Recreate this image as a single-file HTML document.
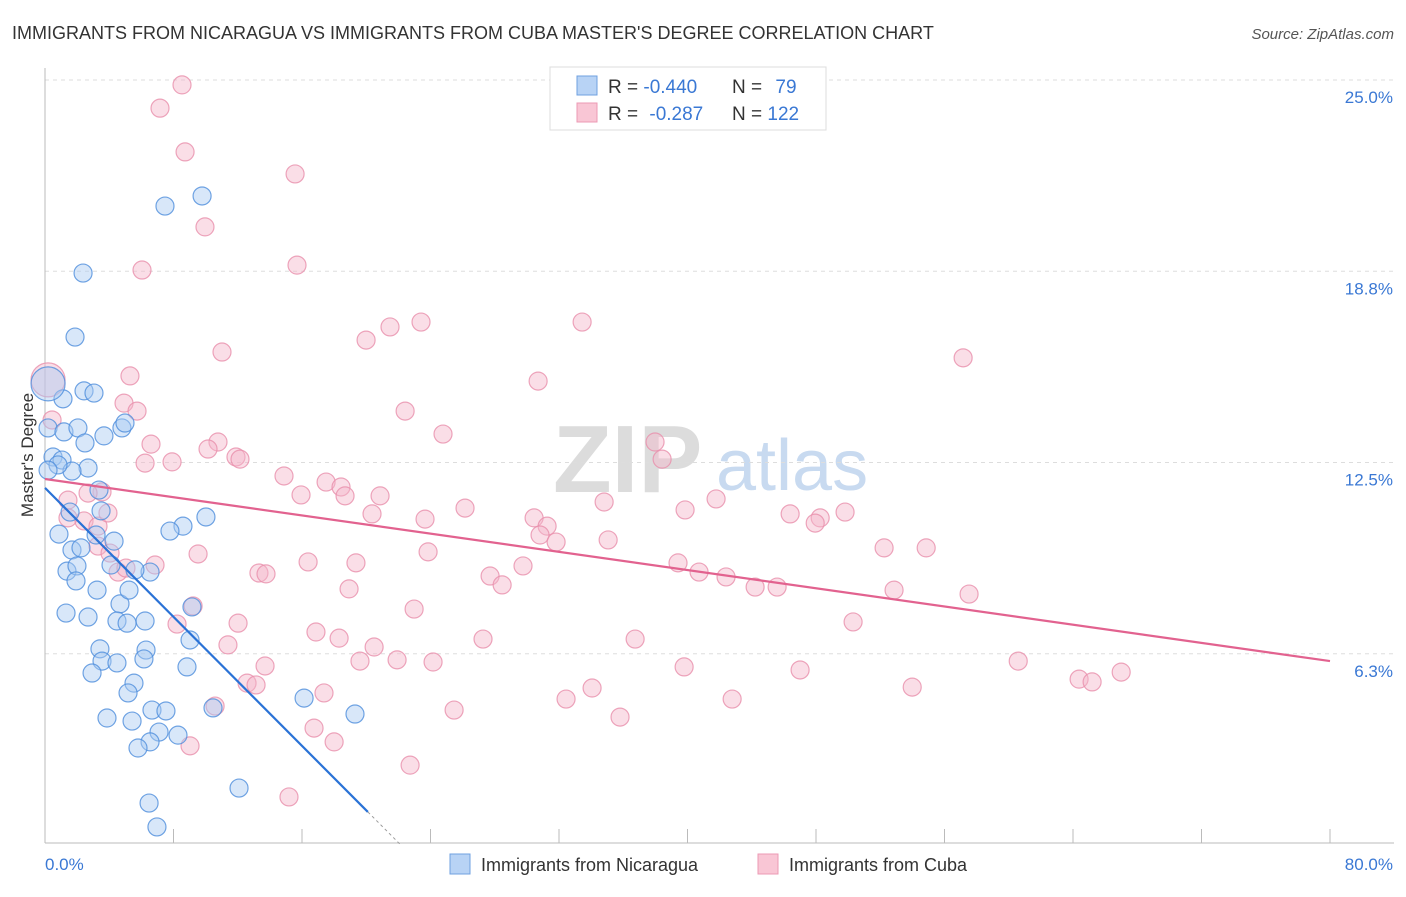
<!DOCTYPE html>
<html><head><meta charset="utf-8">
<style>
body{margin:0;background:#fff;font-family:"Liberation Sans",sans-serif;}
svg text{font-family:"Liberation Sans",sans-serif;}
</style></head>
<body>
<svg id="chart" width="1406" height="892" xmlns="http://www.w3.org/2000/svg">
<text x="12" y="39" font-size="18" fill="#333">IMMIGRANTS FROM NICARAGUA VS IMMIGRANTS FROM CUBA MASTER'S DEGREE CORRELATION CHART</text>
<text x="1394" y="39" font-size="15" fill="#555" text-anchor="end" font-style="italic">Source: ZipAtlas.com</text>
<g>
<text x="553" y="492" font-size="96" fill="#dcdcdc" font-family="Liberation Serif,serif" font-weight="bold">ZIP</text>
<text x="716" y="490" font-size="72" fill="#c8daf0">atlas</text>
</g>
<g id="grid"></g>
<g id="axes"></g>
<g id="pts"></g>
<g id="trends"></g>
<text transform="translate(33,455) rotate(-90)" font-size="17" fill="#333" text-anchor="middle">Master's Degree</text>
<g>
<rect x="550" y="67" width="276" height="63" fill="#fff" stroke="#ddd"/>
<rect x="577" y="76" width="20" height="19" fill="#b8d3f5" stroke="#6fa0e0"/>
<rect x="577" y="103" width="20" height="19" fill="#f9c6d5" stroke="#ec9ab4"/>
<text x="608" y="93" font-size="19" fill="#333">R = <tspan fill="#3a78d4">-0.440</tspan></text>
<text x="732" y="93" font-size="19" fill="#333">N = <tspan fill="#3a78d4" dx="8">79</tspan></text>
<text x="608" y="120" font-size="19" fill="#333">R = <tspan fill="#3a78d4" dx="6">-0.287</tspan></text>
<text x="732" y="120" font-size="19" fill="#333">N = <tspan fill="#3a78d4">122</tspan></text>
</g>
<g>
<rect x="450" y="854" width="20" height="20" fill="#b8d3f5" stroke="#6fa0e0"/>
<text x="481" y="871" font-size="18" fill="#333">Immigrants from Nicaragua</text>
<rect x="758" y="854" width="20" height="20" fill="#f9c6d5" stroke="#ec9ab4"/>
<text x="789" y="871" font-size="18" fill="#333">Immigrants from Cuba</text>
</g>
</svg>
<script>
const yTicks=[25.0,18.8,12.5,6.3];
const yTickVals=[25,18.75,12.5,6.25];
const xTickLabels=["0.0%","80.0%"];
const nicX=[7.47,9.78,2.37,1.87,2.43,3.05,1.12,0.19,0.19,1.18,2.05,4.79,4.98,3.67,2.49,0.50,1.06,2.68,1.68,0.81,0.19,3.36,3.49,1.56,8.59,10.02,7.78,0.87,3.18,4.30,1.68,2.24,4.11,6.54,5.60,1.37,1.99,4.67,5.23,1.93,3.24,1.31,2.68,4.48,5.11,9.15,9.03,6.23,8.84,3.42,3.55,4.48,6.29,6.16,2.93,5.54,5.17,16.13,19.30,10.46,3.86,5.42,6.66,7.53,7.10,8.28,6.54,5.79,12.08,6.48,6.97];
const nicY=[20.88,21.21,18.69,16.60,14.84,14.77,14.58,15.07,13.63,13.50,13.63,13.63,13.79,13.37,13.14,12.68,12.58,12.32,12.22,12.42,12.25,11.60,10.92,10.88,10.42,10.72,10.26,10.16,10.13,9.93,9.64,9.71,9.15,8.92,8.99,8.95,9.12,7.88,8.33,8.63,8.33,7.58,7.45,7.32,7.25,7.78,6.70,7.32,5.82,6.41,6.01,5.95,6.37,6.08,5.62,5.29,4.97,4.80,4.28,4.48,4.15,4.05,4.41,4.38,3.69,3.59,3.37,3.17,1.86,1.37,0.59];
const cubX=[8.53,7.16,8.72,15.57,9.96,6.04,15.69,11.02,19.99,21.48,23.41,33.44,57.16,30.70,22.42,5.29,4.92,5.73,0.19,0.44,24.78,6.60,10.77,10.15,11.89,12.14,6.23,7.91,37.98,38.42,14.88,17.50,18.43,18.68,20.86,15.94,3.55,2.68,1.43,34.81,41.78,26.15,20.36,23.66,30.45,31.26,30.82,31.82,39.85,46.39,48.26,47.95,49.81,1.43,2.43,3.30,3.92,3.30,4.05,9.53,16.38,19.36,23.85,35.06,52.24,54.86,39.41,40.72,42.40,27.71,28.46,29.76,13.32,13.76,18.93,6.85,4.55,5.04,9.22,22.98,44.21,45.58,52.86,57.53,8.22,12.02,16.87,18.31,20.49,27.27,36.74,50.31,11.39,13.70,19.61,21.92,24.16,39.79,47.01,60.59,64.38,65.19,67.00,53.99,34.06,32.44,42.78,12.58,13.14,17.37,10.59,25.47,35.80,16.75,18.00,9.03,22.73,15.19];
const cubY=[24.84,24.08,22.65,21.93,20.20,18.79,18.95,16.11,16.50,16.93,17.09,17.09,15.92,15.16,14.18,15.33,14.44,14.18,15.20,13.89,13.43,13.10,13.17,12.94,12.68,12.61,12.48,12.52,13.17,12.61,12.06,11.86,11.70,11.41,11.41,11.44,11.54,11.50,11.27,11.21,11.31,11.01,10.82,10.65,10.69,10.42,10.13,9.90,10.95,10.82,10.69,10.52,10.88,10.69,10.59,10.42,10.85,9.77,9.54,9.51,9.25,9.22,9.58,9.97,9.71,9.71,9.22,8.92,8.76,8.79,8.50,9.12,8.89,8.86,8.37,9.15,8.92,9.05,7.81,7.71,8.43,8.43,8.33,8.20,7.22,7.25,6.96,6.76,6.47,6.73,6.73,7.29,6.54,5.85,6.01,6.05,5.98,5.82,5.72,6.01,5.42,5.33,5.65,5.16,5.13,4.77,4.77,5.29,5.23,4.97,4.54,4.41,4.18,3.82,3.37,3.24,2.61,1.57];
const nicTrend=[11.67,1.08,20.1]; // intercept, value at end, end x
const cubTrend=[11.96,6.01,80];

const NS="http://www.w3.org/2000/svg";
const X0=45,X1=1330,YB=845,PX_PER=30.6;
const sx=v=>X0+(v/80)*(X1-X0);
const sy=v=>YB-v*PX_PER;
function mk(tag,attrs,parent){const e=document.createElementNS(NS,tag);for(const k in attrs)e.setAttribute(k,attrs[k]);parent.appendChild(e);return e;}
const grid=document.getElementById('grid'),axes=document.getElementById('axes'),pts=document.getElementById('pts'),tr=document.getElementById('trends');
yTickVals.forEach((v,i)=>{
  const l=mk('line',{x1:X0,x2:1394,y1:sy(v),y2:sy(v),stroke:'#ddd','stroke-dasharray':'4,4'},grid);
  
  
  const t=mk('text',{x:1393,y:sy(v)+23,'font-size':17,fill:'#3a78d4','text-anchor':'end'},axes);
  t.textContent=yTicks[i].toFixed(1)+'%';
  
  
});
const ya=mk('line',{x1:X0,x2:X0,y1:68,y2:843,stroke:'#bbb'},axes);


const xa=mk('line',{x1:X0,x2:1394,y1:843,y2:843,stroke:'#bbb'},axes);


for(let i=1;i<=10;i++){
  const tk=mk('line',{x1:sx(i*8),x2:sx(i*8),y1:829,y2:843,stroke:'#bbb'},axes);
  
  
}
[[0,'start',45],[80,'end',1393]].forEach((d,i)=>{
  const t=mk('text',{x:d[2],y:870,'font-size':17,fill:'#3a78d4','text-anchor':d[1]},axes);
  t.textContent=xTickLabels[i];
  
  
});
function series(xs,ys,fill,stroke,name){
  xs.forEach((x,i)=>{
    const big=(x<0.5&&ys[i]>15);
    const c=mk('circle',{cx:sx(x),cy:sy(ys[i]),r:big?17:9,fill:fill,'fill-opacity':0.45,stroke:stroke,'stroke-opacity':0.8,'stroke-width':1.2},pts);
    
    
  });
}
series(cubX,cubY,'#f5b5c9','#e98fab','point-cuba');
series(nicX,nicY,'#a9c9f2','#4e8ddc','point-nicaragua');
const nl=mk('line',{x1:sx(0),y1:sy(nicTrend[0]),x2:sx(nicTrend[2]),y2:sy(nicTrend[1]),stroke:'#2a72d6','stroke-width':2.2},tr);


const slope=(nicTrend[1]-nicTrend[0])/nicTrend[2];
const xEnd=-nicTrend[0]/slope;
const nd=mk('line',{x1:sx(nicTrend[2]),y1:sy(nicTrend[1]),x2:sx(xEnd),y2:sy(0),stroke:'#999','stroke-width':1,'stroke-dasharray':'3,3'},tr);


const cl=mk('line',{x1:sx(0),y1:sy(cubTrend[0]),x2:sx(cubTrend[2]),y2:sy(cubTrend[1]),stroke:'#e2628f','stroke-width':2.2},tr);


</script>
</body></html>
